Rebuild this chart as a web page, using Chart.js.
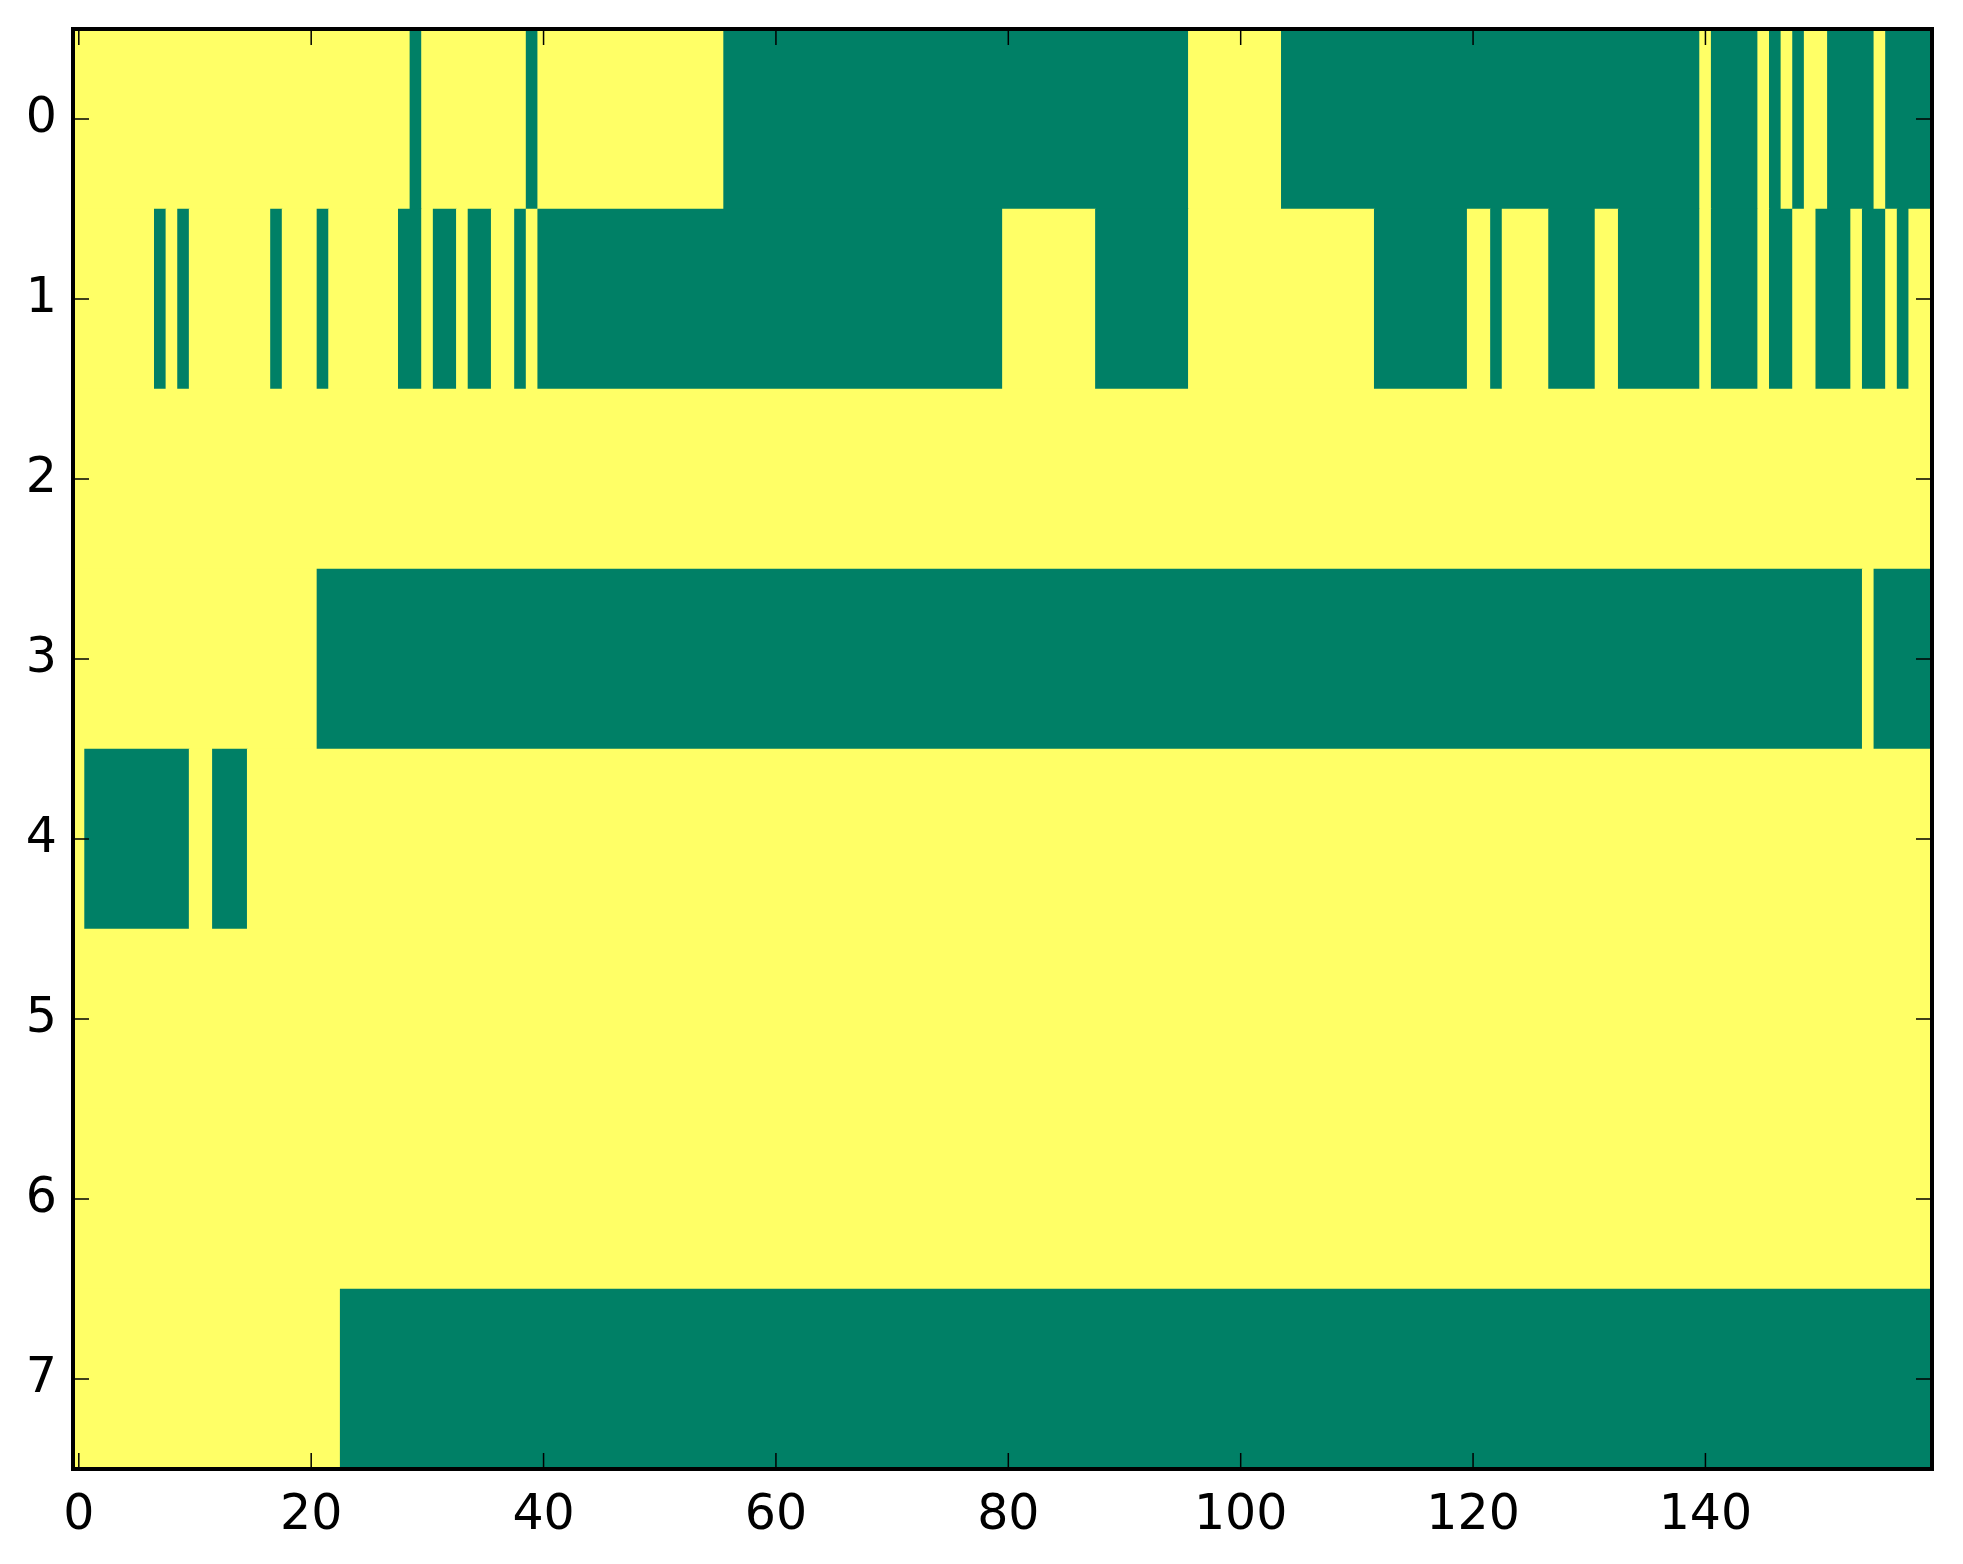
<!DOCTYPE html>
<html>
<head>
<meta charset="utf-8">
<script src="https://cdn.jsdelivr.net/npm/chart.js@4"></script>
<style>
  html, body { margin: 0; padding: 0; background: #fff; }
  canvas { display: block; }
</style>
</head>
<body>
<canvas id="grid" width="1963" height="1564"></canvas>
<script>
// image is 8 rows x 160 columns, values 0 (yellow) / 1 (green)
const nCols = 160;
const rowLabels = ['0', '1', '2', '3', '4', '5', '6', '7'];
const xTickValues = [0, 20, 40, 60, 80, 100, 120, 140];

// green runs per row, [firstCol, lastCol] inclusive
const row0Green = [[29, 29], [39, 39], [56, 95], [104, 139], [141, 144], [146, 146], [148, 148], [151, 154], [156, 159]];
const row1Green = [[7, 7], [9, 9], [17, 17], [21, 21], [28, 29], [31, 32], [34, 35], [38, 38], [40, 79], [88, 95],
                   [112, 119], [122, 122], [127, 130], [133, 139], [141, 144], [146, 147], [150, 152], [154, 155], [157, 157]];
const row2Green = [];
const row3Green = [[21, 153], [155, 159]];
const row4Green = [[1, 9], [12, 14]];
const row5Green = [];
const row6Green = [];
const row7Green = [[23, 159]];

const colors = ['#ffff66', '#008066'];

function buildCells(runs) {
    const cells = new Array(nCols).fill(0);
    runs.forEach(([a, b]) => {
        for (let c = a; c <= b; c++) cells[c] = 1;
    });
    return cells;
}

// merge equal neighbouring cells into floating bars
function rowBars(cells, label) {
    const bars = [];
    let start = 0;
    for (let c = 1; c <= cells.length; c++) {
        if (c === cells.length || cells[c] !== cells[start]) {
            bars.push({ x: [start - 0.5, c - 0.5], y: label, v: cells[start] });
            start = c;
        }
    }
    return bars;
}

const allRows = [row0Green, row1Green, row2Green, row3Green, row4Green, row5Green, row6Green, row7Green];
const bars = [];
allRows.forEach((runs, r) => {
    rowBars(buildCells(runs), rowLabels[r]).forEach(b => bars.push(b));
});

const tickLen = 16;

const frameTicks = {
    id: 'frameTicks',
    afterDraw(chart) {
        const { ctx, chartArea: a, scales: { x, y } } = chart;
        ctx.save();
        ctx.strokeStyle = '#000';
        ctx.lineWidth = 1.5;
        ctx.beginPath();
        xTickValues.forEach(v => {
            const px = x.getPixelForValue(v);
            ctx.moveTo(px, a.bottom); ctx.lineTo(px, a.bottom - tickLen);
            ctx.moveTo(px, a.top); ctx.lineTo(px, a.top + tickLen);
        });
        rowLabels.forEach((l, i) => {
            const py = y.getPixelForValue(i);
            ctx.moveTo(a.left, py); ctx.lineTo(a.left + tickLen, py);
            ctx.moveTo(a.right, py); ctx.lineTo(a.right - tickLen, py);
        });
        ctx.stroke();
        ctx.lineWidth = 4;
        ctx.strokeRect(a.left, a.top, a.width, a.height);
        ctx.restore();
    }
};

const ctx = document.getElementById('grid').getContext('2d');

new Chart(ctx, {
    type: 'bar',
    data: {
        labels: rowLabels,
        datasets: [{
            data: bars,
            backgroundColor: bars.map(b => colors[b.v]),
            borderWidth: 0,
            borderSkipped: false,
            barPercentage: 1.0,
            categoryPercentage: 1.0
        }]
    },
    options: {
        indexAxis: 'y',
        responsive: false,
        animation: false,
        devicePixelRatio: 1,
        layout: { padding: { top: 29, right: 31, left: 0, bottom: 0 } },
        plugins: {
            legend: { display: false },
            tooltip: { enabled: false }
        },
        events: [],
        scales: {
            x: {
                type: 'linear',
                min: -0.5,
                max: nCols - 0.5,
                grid: { display: false, drawTicks: false },
                border: { display: false },
                afterBuildTicks: (s) => { s.ticks = xTickValues.map(v => ({ value: v })); },
                afterFit: (s) => {
                    s.height = 95;
                    s.paddingLeft = 0; s.paddingRight = 0;
                },
                ticks: {
                    padding: 18,
                    color: '#000',
                    maxRotation: 0,
                    font: { family: 'DejaVu Sans', size: 49 }
                }
            },
            y: {
                type: 'category',
                grid: { display: false, drawTicks: false },
                border: { display: false },
                afterFit: (s) => {
                    s.width = 73;
                    s.paddingTop = 0; s.paddingBottom = 0;
                },
                ticks: {
                    padding: 16,
                    color: '#000',
                    font: { family: 'DejaVu Sans', size: 49 }
                }
            }
        }
    },
    plugins: [frameTicks]
});
</script>
</body>
</html>
